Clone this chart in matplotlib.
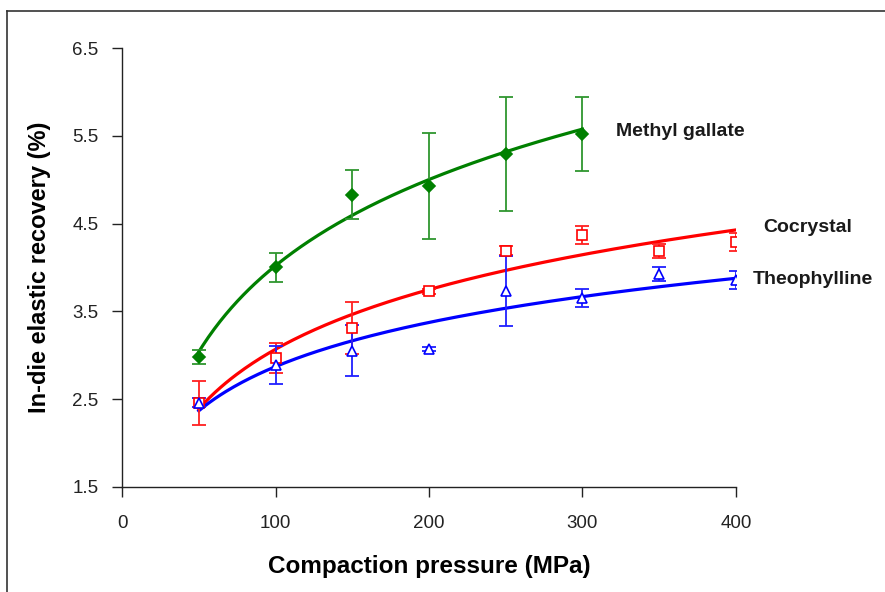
import numpy as np
import matplotlib
matplotlib.use('Agg')
import matplotlib.pyplot as plt
from matplotlib.lines import Line2D

plt.rcParams['font.family'] = ['Liberation Sans', 'DejaVu Sans']

# compaction pressure (MPa)
pressure = [50, 100, 150, 200, 250, 300, 350, 400]
pressure_mg = [50, 100, 150, 200, 250, 300]

# in-die elastic recovery (%) and standard deviations
methyl_gallate = [2.98, 4.00, 4.83, 4.93, 5.29, 5.52]
methyl_gallate_sd = [0.08, 0.16, 0.28, 0.60, 0.65, 0.42]
cocrystal = [2.46, 2.97, 3.31, 3.73, 4.19, 4.37, 4.19, 4.29]
cocrystal_sd = [0.25, 0.17, 0.30, 0.03, 0.05, 0.10, 0.08, 0.10]
theophylline = [2.46, 2.89, 3.05, 3.07, 3.73, 3.65, 3.93, 3.86]
theophylline_sd = [0.05, 0.22, 0.29, 0.02, 0.40, 0.10, 0.08, 0.10]

fig = plt.figure(figsize=(8.85, 5.92), dpi=100)
ax = fig.add_axes([0.1379, 0.1774, 0.6937, 0.7415])

# chart area border (top and left edges only)
fig.add_artist(Line2D([7 / 885, 7 / 885], [0, 1 - 11 / 592], transform=fig.transFigure,
                      color='#333333', lw=1.2))
fig.add_artist(Line2D([7 / 885, 1], [1 - 11 / 592, 1 - 11 / 592], transform=fig.transFigure,
                      color='#333333', lw=1.2))


def log_trend(x, y):
    # logarithmic trendline y = a*ln(x) + b
    a, b = np.polyfit(np.log(x), y, 1)
    xs = np.linspace(min(x), max(x), 200)
    return xs, a * np.log(xs) + b


series = [
    (pressure_mg, methyl_gallate, methyl_gallate_sd, '#008000', '#2f962f', 'D', True),
    (pressure, cocrystal, cocrystal_sd, '#ff0000', '#ff2020', 's', False),
    (pressure, theophylline, theophylline_sd, '#0000ff', '#2020ff', '^', False),
]

for x, y, sd, col, ecol, mk, filled in series:
    xs, ys = log_trend(x, y)
    ax.plot(xs, ys, color=col, lw=2.3, zorder=2)
    ax.errorbar(x, y, yerr=sd, fmt='none', ecolor=ecol, elinewidth=1.3,
                capsize=5, capthick=1.3, zorder=3)
    ax.plot(x, y, linestyle='none', marker=mk, markersize=7 if mk != 'D' else 6,
            markerfacecolor=col if filled else 'white', markeredgecolor=col,
            markeredgewidth=1.2, zorder=4)

ax.text(322, 5.55, 'Methyl gallate', fontsize=14, fontweight='bold', va='center',
        ha='left', color='#1a1a1a', clip_on=False)
ax.text(418, 4.45, 'Cocrystal', fontsize=14, fontweight='bold', va='center',
        ha='left', color='#1a1a1a', clip_on=False)
ax.text(411, 3.86, 'Theophylline', fontsize=14, fontweight='bold', va='center',
        ha='left', color='#1a1a1a', clip_on=False)

ax.set_xlim(0, 400)
ax.set_ylim(1.5, 6.5)
ax.set_xticks([0, 100, 200, 300, 400])
ax.set_yticks([1.5, 2.5, 3.5, 4.5, 5.5, 6.5])
ax.set_yticklabels(['1.5', '2.5', '3.5', '4.5', '5.5', '6.5'])
ax.tick_params(direction='out', length=7, width=1, labelsize=13.5, pad=10, colors='#222222')
ax.tick_params(axis='x', pad=13)
ax.spines['top'].set_visible(False)
ax.spines['right'].set_visible(False)
for s in ['left', 'bottom']:
    ax.spines[s].set_color('#222222')
    ax.spines[s].set_linewidth(1)

ax.set_xlabel('Compaction pressure (MPa)', fontsize=17.5, fontweight='bold', labelpad=17)
ax.set_ylabel('In-die elastic recovery (%)', fontsize=17, fontweight='bold', labelpad=15)

fig.savefig('out.png', dpi=100)
